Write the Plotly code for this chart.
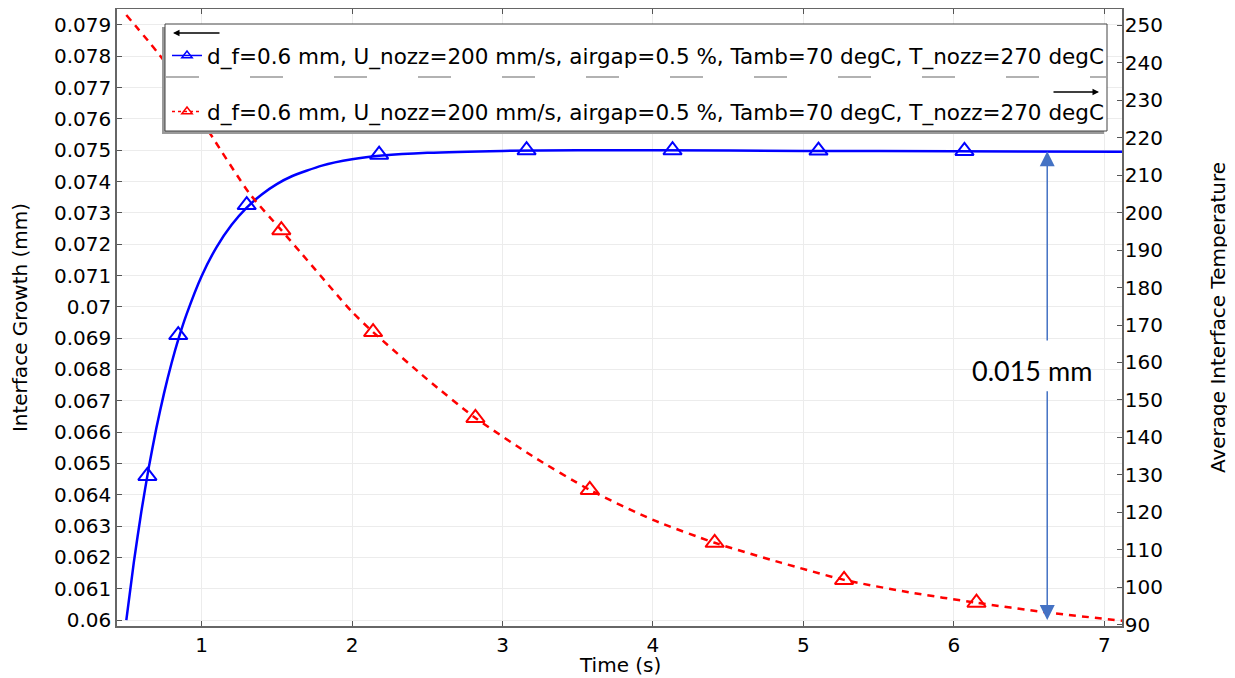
import plotly.graph_objects as go

# Interface growth (left axis, mm) against time (s)
growth_t = [0.50, 0.55, 0.60, 0.65, 0.70, 0.75, 0.80, 0.85, 0.90, 1.00, 1.10, 1.20,
            1.30, 1.40, 1.50, 1.60, 1.80, 2.00, 2.20, 2.50, 3.00, 3.50, 4.00, 5.00,
            6.00, 7.12]
growth = [0.06000, 0.06185, 0.06347, 0.06489, 0.06614, 0.06723, 0.06819, 0.06903,
          0.06976, 0.07098, 0.07191, 0.07262, 0.07317, 0.07359, 0.07392, 0.07417,
          0.07451, 0.07471, 0.07483, 0.07492, 0.07498, 0.07500, 0.07500, 0.07498,
          0.07497, 0.07495]
growth_mark_t = [0.64, 0.845, 1.30, 2.18, 3.16, 4.13, 5.10, 6.07]
growth_mark = [0.06460, 0.06910, 0.07325, 0.07486, 0.07500, 0.07500, 0.07499, 0.07498]

# Average interface temperature (right axis, degC) against time (s)
temp_t = [0.50, 0.75, 1.05, 1.32, 1.53, 1.67, 2.00, 2.14, 2.50, 2.82, 3.20, 3.58,
          4.00, 4.41, 4.85, 5.27, 5.70, 6.15, 6.60, 7.12]
temp = [252.7, 240.5, 221.5, 205.0, 195.3, 188.8, 173.5, 168.1, 155.5, 145.2, 135.0,
        126.0, 118.0, 111.9, 106.6, 102.0, 98.7, 95.9, 93.4, 91.1]
temp_mark_t = [1.53, 2.14, 2.82, 3.58, 4.41, 5.27, 6.15]
temp_mark = [195.3, 168.1, 145.2, 126.0, 111.9, 102.0, 95.9]

legend_label = ("d_f=0.6 mm, U_nozz=200 mm/s, airgap=0.5 %, "
                "Tamb=70 degC, T_nozz=270 degC")

# Span marked on the growth curve (arrow is broken where the label sits)
span_t = 6.62
span_lo, span_hi = 0.0600, 0.07497
span_gap = (0.06735, 0.06888)
span_label = "0.015 mm"

BLUE = "#0000ff"
RED = "#ff0000"
FONT = "DejaVu Sans"

# The page body has an 8px margin, so the figure starts at (8, 8).
OFF = 8
W, H = 1235 - OFF, 678 - OFF
L, R, T, B = 117 - OFF, 113, 9 - OFF, 52


def px(x):
    """Screen pixel column -> paper x."""
    return (x - OFF - L) / (W - L - R)


def py(y):
    """Screen pixel row -> paper y."""
    return (H - B - (y - OFF)) / (H - T - B)


fig = go.Figure()

# Grid-hiding patch behind the span label
fig.add_shape(type="rect", xref="paper", yref="paper", layer="between",
              x0=px(943), x1=px(1095), y0=py(390), y1=py(342),
              fillcolor="white", line={"width": 0})

fig.add_trace(go.Scatter(
    x=growth_t, y=growth, mode="lines", showlegend=False, hoverinfo="skip",
    line={"color": BLUE, "width": 2.5, "shape": "spline", "smoothing": 0.6},
))
fig.add_trace(go.Scatter(
    x=growth_mark_t, y=growth_mark, mode="markers", showlegend=False,
    marker={"symbol": "triangle-up-open", "size": 16, "color": BLUE,
            "line": {"color": BLUE, "width": 2}},
))
fig.add_trace(go.Scatter(
    x=temp_t, y=temp, yaxis="y2", mode="lines", showlegend=False,
    hoverinfo="skip", line={"color": RED, "width": 2.5, "dash": "7px,6px",
                            "shape": "spline", "smoothing": 0.6},
))
fig.add_trace(go.Scatter(
    x=temp_mark_t, y=temp_mark, yaxis="y2", mode="markers", showlegend=False,
    marker={"symbol": "triangle-up-open", "size": 16, "color": RED,
            "line": {"color": RED, "width": 2}},
))

# Legend-only entries (line + small triangle, as in the legend box).
for name_grp, color, dash in (("g1", BLUE, "solid"), ("g2", RED, "dot")):
    fig.add_trace(go.Scatter(
        x=[None], y=[None], mode="lines+markers", name=legend_label,
        legendgroup=name_grp,
        line={"color": color, "width": 1.5, "dash": dash},
        marker={"symbol": "triangle-up-open", "size": 9, "color": color,
                "line": {"color": color, "width": 1.5}},
    ))

axis_common = {
    "showline": True, "linecolor": "#666666", "linewidth": 1.5,
    "ticks": "inside", "ticklen": 5, "tickcolor": "#555555",
    "tickfont": {"size": 20, "color": "black"}, "zeroline": False,
    "automargin": False,
}

fig.update_layout(
    width=W, height=H,
    margin={"l": L, "r": R, "t": T, "b": B, "pad": 0, "autoexpand": False},
    paper_bgcolor="white", plot_bgcolor="white",
    font={"family": FONT, "size": 20, "color": "black"},
    xaxis={**axis_common, "range": [0.438, 7.117], "dtick": 1, "tick0": 0,
           "mirror": "ticks", "showgrid": True, "gridcolor": "#ececec"},
    yaxis={**axis_common, "range": [0.05981, 0.07951], "dtick": 0.001,
           "tick0": 0.06, "showgrid": True, "gridcolor": "#ececec",
           "ticklabelstandoff": 0,
           "title": {"text": "Interface Growth (mm)", "standoff": 21,
                     "font": {"size": 20}}},
    yaxis2={**axis_common, "overlaying": "y", "side": "right",
            "range": [89.7, 254.3], "dtick": 10, "tick0": 90,
            "showgrid": False, "ticklabelstandoff": -3,
            "title": {"text": "Average Interface Temperature", "standoff": 49,
                      "font": {"size": 20}}},
    showlegend=True,
    legend={"x": px(167), "y": py(35), "xanchor": "left", "yanchor": "top",
            "bgcolor": "rgba(0,0,0,0)", "borderwidth": 0,
            "font": {"size": 21.5, "family": FONT, "color": "black"},
            "traceorder": "grouped", "tracegroupgap": 25},
)

# x-axis title sits tight under the tick labels
fig.add_annotation(xref="paper", yref="paper", x=0.5, y=py(665),
                   xanchor="center", yanchor="middle", text="Time (s)",
                   showarrow=False,
                   font={"size": 20, "family": FONT, "color": "black"})

# Legend frame: shadow, white box, dashed separator between the two entries.
fig.add_shape(type="rect", xref="paper", yref="paper", layer="above",
              x0=px(162), x1=px(1104), y0=py(134), y1=py(27),
              fillcolor="#9a9a9a", line={"width": 0})
fig.add_shape(type="rect", xref="paper", yref="paper", layer="above",
              x0=px(165), x1=px(1107), y0=py(131), y1=py(24),
              fillcolor="white", line={"color": "#444444", "width": 1})
fig.add_shape(type="line", xref="paper", yref="paper", layer="above",
              x0=px(166), x1=px(1106), y0=py(77), y1=py(77),
              line={"color": "#999999", "width": 1.5, "dash": "33px,51px"})

# Axis-side arrows inside the legend
fig.add_annotation(xref="paper", yref="paper", x=px(173), y=py(33),
                   ax=48, ay=0, text="", showarrow=True, arrowhead=2,
                   arrowsize=1, arrowwidth=1.3, arrowcolor="black")
fig.add_annotation(xref="paper", yref="paper", x=px(1099), y=py(92),
                   ax=-47, ay=0, text="", showarrow=True, arrowhead=2,
                   arrowsize=1, arrowwidth=1.3, arrowcolor="black")

# Span arrow: two halves meeting the label gap
for tip, tail in ((span_hi, span_gap[1]), (span_lo, span_gap[0])):
    fig.add_annotation(xref="x", yref="y", axref="x", ayref="y",
                       x=span_t, y=tip, ax=span_t, ay=tail, text="",
                       showarrow=True, arrowhead=2, arrowsize=2,
                       arrowwidth=1.5, arrowcolor="#4472c4")
fig.add_annotation(xref="paper", yref="paper", x=px(1032), y=py(370),
                   xanchor="center", yanchor="middle",
                   text=span_label, showarrow=False,
                   font={"family": "Lato", "size": 27, "color": "black"})

fig.write_html("out.html")
